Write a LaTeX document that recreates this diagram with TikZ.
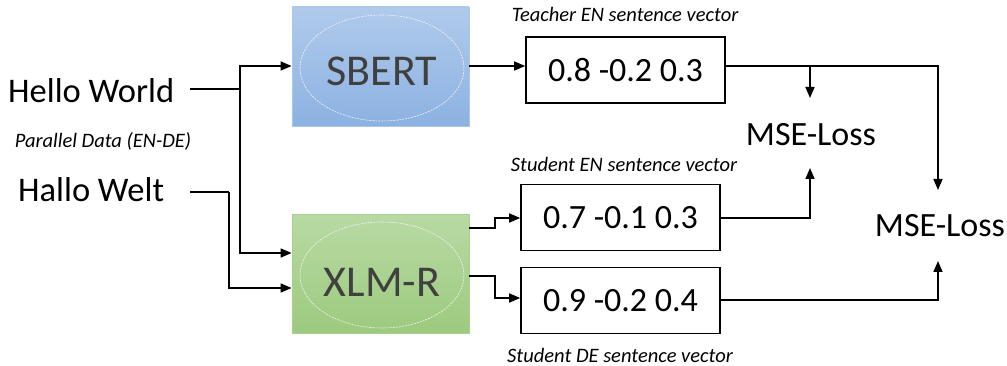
\documentclass[tikz,border=0pt]{standalone}
\usepackage{fontspec}
\setmainfont{Carlito}
\usetikzlibrary{arrows.meta,positioning,shapes.geometric}
\definecolor{bluetop}{HTML}{B0CAEB}
\definecolor{bluebot}{HTML}{8CB2E2}
\definecolor{blueedge}{HTML}{A8C8EC}
\definecolor{greentop}{HTML}{B8DAA4}
\definecolor{greenbot}{HTML}{9CCA7E}
\definecolor{greenedge}{HTML}{A9D18E}
\definecolor{modeltext}{HTML}{404040}
\tikzset{
  model/.style={draw, line width=0.8pt, minimum width=177pt, minimum height=119pt, inner sep=0pt},
  blueshade/.style={draw=blueedge, top color=bluetop, bottom color=bluebot},
  greenshade/.style={draw=greenedge, top color=greentop, bottom color=greenbot},
  innerell/.style={ellipse, draw=white!90!gray, dashed, dash pattern=on 2pt off 1pt, line width=0.6pt, minimum width=164pt, minimum height=106pt, inner sep=0pt},
  modellabel/.style={text=modeltext, font=\fontsize{44}{50}\selectfont, inner sep=0pt},
  vecbox/.style={draw, line width=1.6pt, minimum width=199pt, minimum height=66pt, inner sep=0pt, font=\fontsize{34}{40}\selectfont},
  sent/.style={font=\fontsize{34.5}{42}\selectfont, inner sep=0pt},
  loss/.style={font=\fontsize{34}{40}\selectfont, inner sep=0pt},
  caption/.style={font=\itshape\fontsize{20.5}{24}\selectfont, inner sep=0pt},
  conn/.style={line width=1.6pt},
  arr/.style={conn, -{Triangle[length=11pt,width=9pt]}},
}
\begin{document}
\begin{tikzpicture}[x=1pt,y=-1pt]
  \useasboundingbox (0,0) rectangle (1007,366);

  % encoders
  \node[model, blueshade] (sbert) at (380.5,66.5) {};
  \node[innerell] (sbertell) at (382,68) {};
  \node[modellabel] (sbertlbl) at (382,71) {SBERT};

  \node[model, greenshade] (xlmr) at (380.5,274) {};
  \node[innerell] (xlmrell) at (382,275) {};
  \node[modellabel] (xlmrlbl) at (382,282) {XLM-R};

  % input sentences
  \node[sent, anchor=west] (hello) at (8,91) {Hello World};
  \node[sent, anchor=west] (hallo) at (18,190) {Hallo Welt};
  \node[caption] (parallel) at (103,141) {Parallel Data (EN-DE)};

  % sentence vectors
  \node[vecbox] (teach) at (625.5,70) {0.8 -0.2 0.3};
  \node[vecbox] (sen) at (620.5,217.5) {0.7 -0.1 0.3};
  \node[vecbox] (sde) at (620.5,300.5) {0.9 -0.2 0.4};

  \node[caption] (teachcap) at (625,14) {Teacher EN sentence vector};
  \node[caption] (sencap) at (624,164) {Student EN sentence vector};
  \node[caption] (sdecap) at (620,355) {Student DE sentence vector};

  % losses
  \node[loss] (loss1) at (811,135) {MSE-Loss};
  \node[loss] (loss2) at (940,226) {MSE-Loss};

  % routing points
  \coordinate (hsplit) at (240,89);
  \coordinate (wsplit) at (229,192);
  \coordinate (tsplit) at (810,66);

  % inputs to encoders
  \draw[conn] (190,89) -- (hsplit);
  \draw[arr] (hsplit) |- (sbert.west |- 0,66);
  \draw[arr] (hsplit) |- (xlmr.west |- 0,253);
  \draw[conn] (190,192) -- (wsplit);
  \draw[arr] (wsplit) |- (xlmr.west |- 0,288);

  % encoders to vectors
  \draw[arr] (sbert.east |- 0,66) -- (teach.west |- 0,66);
  \draw[arr] (xlmr.east |- 0,228) -- (495,228) -- (495,218) -- (sen.west |- 0,218);
  \draw[arr] (xlmr.east |- 0,276) -- (495,276) -- (495,298) -- (sen.west |- 0,298);

  % vectors to losses
  \draw[conn] (teach.east |- 0,66) -- (tsplit);
  \draw[arr] (tsplit) -- (tsplit |- 0,98);
  \draw[arr] (tsplit) -- (938,66) -- (938,190);
  \draw[arr] (sen.east |- 0,218) -- (810,218) -- (810,168);
  \draw[arr] (sde.east |- 0,300) -- (938,300) -- (938,261);
\end{tikzpicture}
\end{document}
